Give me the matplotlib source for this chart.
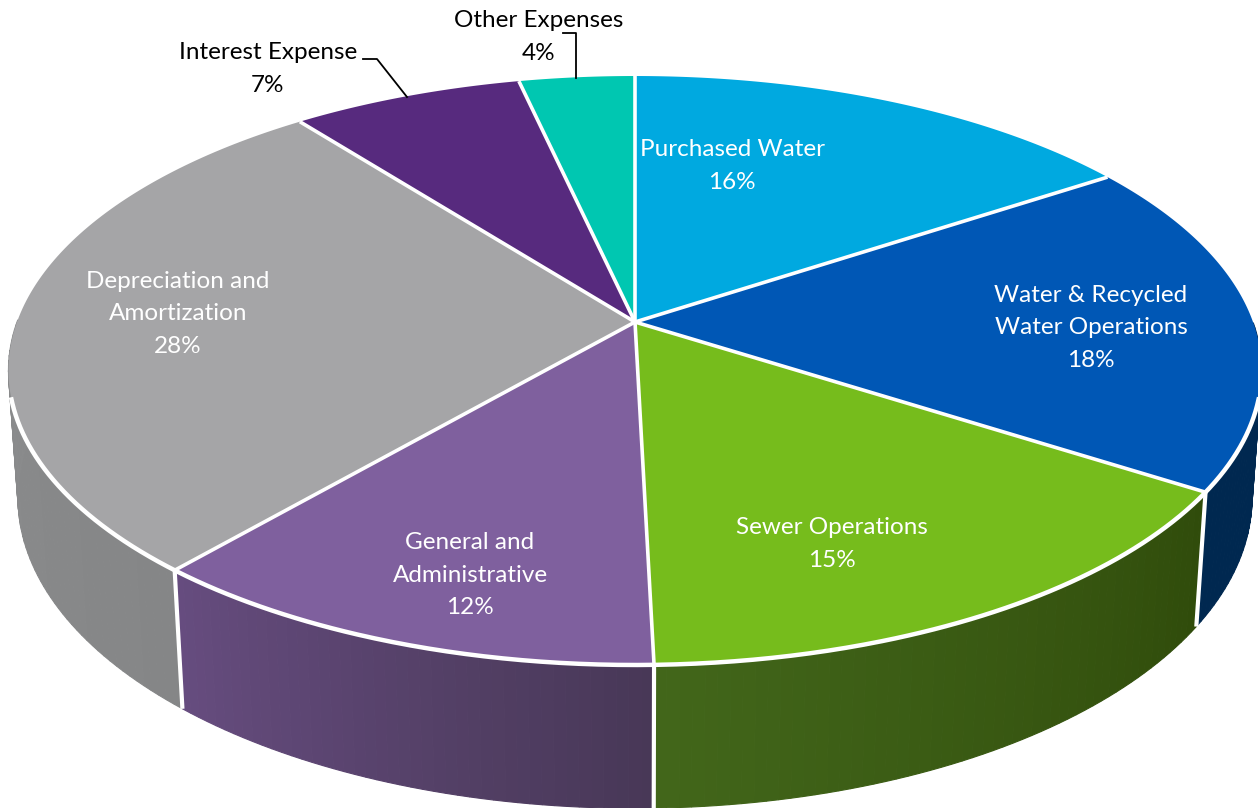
import numpy as np
import matplotlib
matplotlib.use('Agg')
import matplotlib.pyplot as plt
from matplotlib.colors import to_rgb

plt.rcParams['font.family'] = ['Lato', 'DejaVu Sans']

# data, clockwise from 12 o'clock
categories = ['Purchased Water', 'Water & Recycled\nWater Operations', 'Sewer Operations',
              'General and\nAdministrative', 'Depreciation and\nAmortization',
              'Interest Expense', 'Other Expenses']
shares = [15.7, 18.4, 15.49, 11.71, 28.2, 7.0, 3.5]
pct_labels = ['16%', '18%', '15%', '12%', '28%', '7%', '4%']

top_colors = ['#00a9e0', '#0057b5', '#76bc1c', '#7f609e', '#a5a5a7', '#572a7e', '#00c7b1']
wall_start = ['#00a9e0', '#002850', '#304c0b', '#483857', '#858687', '#572a7e', '#00c7b1']
wall_end = ['#00a9e0', '#002850', '#42661a', '#664c7f', '#909192', '#572a7e', '#00c7b1']

label_pos = [(732, 166), (1091, 328), (832, 544), (470, 575), (178, 314), (268, 69), (539, 37)]
label_colors = ['white', 'white', 'white', 'white', 'white', 'black', 'black']


def project(angle, r=1.0, h=0.0):
    # angle in degrees clockwise from the top, h=1 is the bottom of the disc
    a = np.radians(angle)
    u = r * np.sin(a)
    v = -r * np.cos(a)
    d = 1 - 0.1647 * v + 0.015 * h
    return 635 + 618 * u / d, 322 + (286.5 * v + 127 * h) / d


fig = plt.figure(figsize=(12.58, 8.08), dpi=100)
ax = fig.add_axes([0, 0, 1, 1])
ax.set_xlim(0, 1258)
ax.set_ylim(808, 0)
ax.axis('off')

edges = np.cumsum([0] + shares) / sum(shares) * 360

# side wall first, split in thin strips for the gradient
for i in range(len(shares)):
    steps = np.linspace(edges[i], edges[i + 1], int(edges[i + 1] - edges[i]) + 2)
    c0 = np.array(to_rgb(wall_start[i]))
    c1 = np.array(to_rgb(wall_end[i]))
    for j in range(len(steps) - 1):
        # the back of the wall is hidden anyway
        if not 90 < steps[j] < 270:
            continue
        x0, y0 = project(steps[j])
        x1, y1 = project(steps[j + 1])
        x2, y2 = project(steps[j + 1], h=1)
        x3, y3 = project(steps[j], h=1)
        t = j / (len(steps) - 2)
        c = c0 + (c1 - c0) * t
        ax.fill([x0, x1, x2, x3], [y0, y1, y2, y3], color=c, lw=0.8, zorder=1)

# white joints on the wall, only the ones facing the viewer
for e in edges[:-1]:
    if 90 < e < 270:
        x0, y0 = project(e)
        x1, y1 = project(e, h=1)
        ax.plot([x0, x1], [y0, y1], color='white', lw=3, zorder=2, solid_capstyle='butt')

# top face
for i in range(len(shares)):
    angles = np.linspace(edges[i], edges[i + 1], 120)
    xs, ys = project(angles)
    cx, cy = project(0, r=0)
    ax.fill(np.r_[cx, xs], np.r_[cy, ys], color=top_colors[i], ec='none', zorder=3)

# white rim along the front and spokes between the slices
rim = np.linspace(105, 255, 400)
xs, ys = project(rim)
ax.plot(xs, ys, color='white', lw=3.2, zorder=4)
for e in edges[:-1]:
    x0, y0 = project(0, r=0)
    x1, y1 = project(e)
    ax.plot([x0, x1], [y0, y1], color='white', lw=2.6, zorder=4, solid_capstyle='butt')

# leader lines
ax.plot([363, 377, 407], [59, 59, 97], color='black', lw=1.3, zorder=5)
ax.plot([563, 576, 576], [33, 33, 78], color='black', lw=1.3, zorder=5)

for name, pct, pos, col in zip(categories, pct_labels, label_pos, label_colors):
    ax.text(pos[0], pos[1], name + '\n' + pct, ha='center', va='center', color=col,
            fontsize=17.5, linespacing=1.65, zorder=6)

fig.savefig('out.png', dpi=100)
